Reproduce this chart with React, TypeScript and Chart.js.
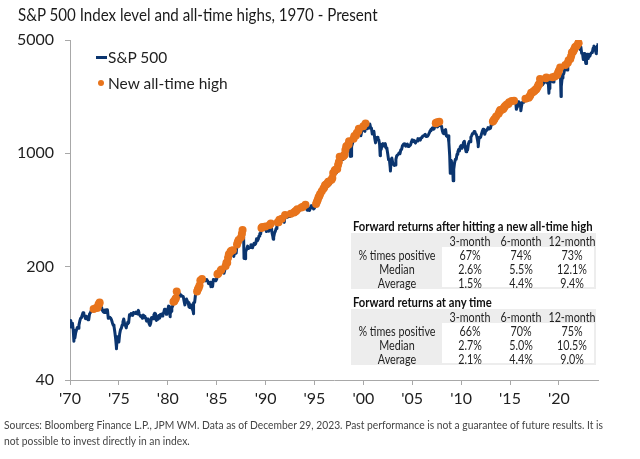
import React, { useEffect, useRef } from "react";
import { Chart, registerables } from "chart.js";

Chart.register(...registerables);

// ---------------- DATA ----------------
const startYear = 1970;

// S&P 500 month-end closes
const sp1970s = [
  85.0, 89.5, 89.6, 81.5, 76.6, 72.7, 78.1, 81.5, 84.2, 83.3, 87.2, 92.2,
  95.9, 96.8, 100.3, 103.9, 99.6, 99.7, 95.6, 99.0, 98.3, 94.2, 94.0, 102.1,
  103.9, 106.6, 107.2, 107.7, 109.5, 107.1, 107.4, 111.1, 110.6, 111.6, 116.7, 118.1,
  116.0, 111.7, 111.5, 107.0, 105.0, 104.3, 108.2, 104.3, 108.4, 108.3, 96.0, 97.6,
  96.6, 96.2, 94.0, 90.3, 87.3, 86.0, 79.3, 72.2, 63.5, 73.9, 70.0, 68.6,
  77.0, 81.6, 83.4, 87.3, 91.2, 95.2, 88.8, 86.9, 83.9, 89.0, 91.2, 90.2,
  100.9, 99.7, 102.8, 101.6, 100.2, 104.3, 103.4, 102.9, 105.2, 102.9, 102.1, 107.5,
  102.0, 99.8, 98.4, 98.4, 96.1, 100.5, 98.9, 96.8, 96.5, 92.3, 94.8, 95.1,
  89.3, 87.0, 89.2, 96.8, 97.2, 95.5, 100.7, 103.3, 102.5, 93.2, 94.7, 96.1,
  99.9, 96.3, 101.6, 101.8, 99.1, 102.9, 103.8, 109.3, 109.3, 101.8, 106.2, 107.9,
];
const sp1980s = [
  114.2, 113.7, 102.1, 106.3, 111.2, 114.2, 121.7, 122.4, 125.5, 127.5, 140.5, 135.8,
  129.6, 131.3, 136.0, 132.8, 132.6, 131.2, 130.9, 122.8, 116.2, 121.9, 126.4, 122.6,
  120.4, 113.1, 112.0, 116.4, 111.9, 109.6, 107.1, 119.5, 120.4, 133.7, 138.5, 140.6,
  145.3, 148.1, 153.0, 164.4, 162.4, 168.1, 162.6, 164.4, 166.1, 163.6, 166.4, 164.9,
  163.4, 157.1, 159.2, 160.1, 150.6, 153.2, 150.7, 166.7, 166.1, 166.1, 163.6, 167.2,
  179.6, 181.2, 180.7, 179.8, 189.6, 191.9, 190.9, 188.6, 182.1, 189.8, 202.2, 211.3,
  211.8, 226.9, 238.9, 235.5, 247.4, 250.8, 236.1, 252.9, 231.3, 244.0, 249.2, 242.2,
  274.1, 284.2, 291.7, 288.4, 290.1, 304.0, 318.7, 329.8, 321.8, 251.8, 230.3, 247.1,
  257.1, 267.8, 258.9, 261.3, 262.2, 273.5, 272.0, 261.5, 271.9, 279.0, 273.7, 277.7,
  297.5, 288.9, 294.9, 309.6, 320.5, 318.0, 346.1, 351.5, 349.2, 340.4, 346.0, 353.4,
];
const sp1990s = [
  329.1, 331.9, 339.9, 330.8, 361.2, 358.0, 356.2, 322.6, 306.1, 304.0, 322.2, 330.2,
  343.9, 367.1, 375.2, 375.3, 389.8, 371.2, 387.8, 395.4, 387.9, 392.5, 375.2, 417.1,
  408.8, 412.7, 403.7, 415.0, 415.4, 408.1, 424.2, 414.0, 417.8, 418.7, 431.4, 435.7,
  438.8, 443.4, 451.7, 440.2, 450.2, 450.5, 448.1, 463.6, 458.9, 467.8, 461.8, 466.5,
  481.6, 467.1, 445.8, 450.9, 456.5, 444.3, 458.3, 475.5, 462.7, 472.4, 453.7, 459.3,
  470.4, 487.4, 500.7, 514.7, 533.4, 544.8, 562.1, 561.9, 584.4, 581.5, 605.4, 615.9,
  636.0, 640.4, 645.5, 654.2, 669.1, 670.6, 640.0, 652.0, 687.3, 705.3, 757.0, 740.7,
  786.2, 790.8, 757.1, 801.3, 848.3, 885.1, 954.3, 899.5, 947.3, 914.6, 955.4, 970.4,
  980.3, 1049.3, 1101.8, 1111.8, 1090.8, 1133.8, 1120.7, 957.3, 1017.0, 1098.7, 1163.6, 1229.2,
  1279.6, 1238.3, 1286.4, 1335.2, 1301.8, 1372.7, 1328.7, 1320.4, 1282.7, 1362.9, 1388.9, 1469.3,
];
const sp2000s = [
  1394.5, 1366.4, 1498.6, 1452.4, 1420.6, 1454.6, 1430.8, 1517.7, 1436.5, 1429.4, 1315.0, 1320.3,
  1366.0, 1239.9, 1160.3, 1249.5, 1255.8, 1224.4, 1211.2, 1133.6, 1040.9, 1059.8, 1139.5, 1148.1,
  1130.2, 1106.7, 1147.4, 1076.9, 1067.1, 989.8, 911.6, 916.1, 815.3, 885.8, 936.3, 879.8,
  855.7, 841.2, 848.2, 916.9, 963.6, 974.5, 990.3, 1008.0, 996.0, 1050.7, 1058.2, 1111.9,
  1131.1, 1144.9, 1126.2, 1107.3, 1120.7, 1140.8, 1101.7, 1104.2, 1114.6, 1130.2, 1173.8, 1211.9,
  1181.3, 1203.6, 1180.6, 1156.9, 1191.5, 1191.3, 1234.2, 1220.3, 1228.8, 1207.0, 1249.5, 1248.3,
  1280.1, 1280.7, 1294.8, 1310.6, 1270.1, 1270.2, 1276.7, 1303.8, 1335.9, 1377.9, 1400.6, 1418.3,
  1438.2, 1406.8, 1420.9, 1482.4, 1530.6, 1503.4, 1455.3, 1474.0, 1526.8, 1549.4, 1481.1, 1468.4,
  1378.6, 1330.6, 1322.7, 1385.6, 1400.4, 1280.0, 1267.4, 1282.8, 1166.4, 968.8, 896.2, 903.3,
  825.9, 735.1, 797.9, 872.8, 919.1, 919.3, 987.5, 1020.6, 1057.1, 1036.2, 1095.6, 1115.1,
];
const sp2010s = [
  1073.9, 1104.5, 1169.4, 1186.7, 1089.4, 1030.7, 1101.6, 1049.3, 1141.2, 1183.3, 1180.6, 1257.6,
  1286.1, 1327.2, 1325.8, 1363.6, 1345.2, 1320.6, 1292.3, 1218.9, 1131.4, 1253.3, 1247.0, 1257.6,
  1312.4, 1365.7, 1408.5, 1397.9, 1310.3, 1362.2, 1379.3, 1406.6, 1440.7, 1412.2, 1416.2, 1426.2,
  1498.1, 1514.7, 1569.2, 1597.6, 1630.7, 1606.3, 1685.7, 1633.0, 1681.6, 1756.5, 1805.8, 1848.4,
  1782.6, 1859.5, 1872.3, 1884.0, 1923.6, 1960.2, 1930.7, 2003.4, 1972.3, 2018.1, 2067.6, 2058.9,
  1995.0, 2104.5, 2067.9, 2085.5, 2107.4, 2063.1, 2103.8, 1972.2, 1920.0, 2079.4, 2080.4, 2043.9,
  1940.2, 1932.2, 2059.7, 2065.3, 2097.0, 2098.9, 2173.6, 2171.0, 2168.3, 2126.2, 2198.8, 2238.8,
  2278.9, 2363.6, 2362.7, 2384.2, 2411.8, 2423.4, 2470.3, 2471.7, 2519.4, 2575.3, 2647.6, 2673.6,
  2823.8, 2713.8, 2640.9, 2648.1, 2705.3, 2718.4, 2816.3, 2901.5, 2914.0, 2711.7, 2760.2, 2506.9,
  2704.1, 2784.5, 2834.4, 2945.8, 2752.1, 2941.8, 2980.4, 2926.5, 2976.7, 3037.6, 3141.0, 3230.8,
];
const sp2020s = [
  3225.5, 2954.2, 2584.6, 2912.4, 3044.3, 3100.3, 3271.1, 3500.3, 3363.0, 3270.0, 3621.6, 3756.1,
  3714.2, 3811.2, 3972.9, 4181.2, 4204.1, 4297.5, 4395.3, 4522.7, 4307.5, 4605.4, 4567.0, 4766.2,
  4515.6, 4373.9, 4530.4, 4131.9, 4132.2, 3785.4, 4130.3, 3955.0, 3585.6, 3872.0, 4080.1, 3839.5,
  4076.6, 3970.2, 4109.3, 4169.5, 4179.8, 4450.4, 4589.0, 4507.7, 4288.1, 4193.8, 4567.8, 4769.8,
];

// Notable intra-month highs / lows (decimal year, level)
const extraDates = [
  1970.0, 1970.4, 1973.03, 1974.75, 1978.18, 1980.24, 1982.61, 1987.65, 1987.8, 1987.93,
  1990.54, 1990.78, 1998.54, 1998.77, 1999.54, 2000.23, 2001.72, 2002.77, 2007.42, 2007.55,
  2007.77, 2008.89, 2009.19, 2010.5, 2011.75, 2015.65, 2016.11, 2018.07, 2018.72, 2018.98,
  2020.13, 2020.22, 2022.0, 2022.78, 2023.82,
];
const extraValues = [
  93.0, 69.3, 120.2, 62.3, 86.9, 98.2, 102.4, 336.8, 224.8, 223.9,
  369.0, 295.5, 1186.8, 959.4, 1418.8, 1527.5, 965.8, 776.8, 1539.2, 1553.1,
  1565.2, 752.4, 676.5, 1022.6, 1099.2, 1867.6, 1829.1, 2872.9, 2930.8, 2351.1,
  3386.2, 2237.4, 4796.6, 3577.0, 4117.4,
];

// Previous all-time high before the chart starts (Nov 1968)
const priorAllTimeHigh = 108.37;

const xTickYears = [1970, 1975, 1980, 1985, 1990, 1995, 2000, 2005, 2010, 2015, 2020];
const yTickValues = [40, 200, 1000, 5000];

const titleText = "S&P 500 Index level and all-time highs, 1970 - Present";
const legendLine = "S&P 500";
const legendDot = "New all-time high";
const footnote1 =
  "Sources: Bloomberg Finance L.P., JPM WM. Data as of December 29, 2023. Past performance is not a guarantee of future results. It is";
const footnote2 = "not possible to invest directly in an index.";

const tableHeaders = ["3-month", "6-month", "12-month"];
const rowLabels = ["% times positive", "Median", "Average"];
const athTitle = "Forward returns after hitting a new all-time high";
const athReturns = [
  ["67%", "74%", "73%"],
  ["2.6%", "5.5%", "12.1%"],
  ["1.5%", "4.4%", "9.4%"],
];
const anyTitle = "Forward returns at any time";
const anyReturns = [
  ["66%", "70%", "75%"],
  ["2.7%", "5.0%", "10.5%"],
  ["2.1%", "4.4%", "9.0%"],
];

// ---------------- STYLE ----------------
const FONT = "Lato, 'Open Sans', sans-serif";
const NAVY = "#0b356f";
const ORANGE = "#e8741c";
const AXIS = "#a8a8a8";
const TEXT = "#1f1f1f";

let measureCtx: CanvasRenderingContext2D | null = null;
function textWidth(text: string, size: number, weight = 400) {
  if (!measureCtx) measureCtx = document.createElement("canvas").getContext("2d");
  if (!measureCtx) return 1;
  measureCtx.font = `${weight} ${size}px ${FONT}`;
  return measureCtx.measureText(text).width || 1;
}

function Txt(props: {
  text: string;
  x: number;
  y: number;
  size: number;
  weight?: number;
  color?: string;
  align?: "left" | "center";
  sx?: number;
}) {
  const { text, x, y, size, weight = 400, color = TEXT, align = "left", sx = 1 } = props;
  const center = align === "center";
  return (
    <span
      style={{
        position: "absolute",
        left: x,
        top: y,
        fontSize: size,
        fontWeight: weight,
        fontFamily: FONT,
        color,
        whiteSpace: "nowrap",
        lineHeight: 1,
        transformOrigin: center ? "50% 50%" : "0 50%",
        transform: center ? `translate(-50%, -50%) scaleX(${sx})` : `translateY(-50%) scaleX(${sx})`,
      }}
    >
      {text}
    </span>
  );
}

function ReturnsTable(props: {
  title: string;
  rows: string[][];
  titleY: number;
  boxTop: number;
  titleWidth: number;
}) {
  const { title, rows, titleY, boxTop, titleWidth } = props;
  const bodySize = 13;
  const sx = 77 / textWidth(rowLabels[0], bodySize);
  const tsx = titleWidth / textWidth(title, 13, 700);
  const colX = [470, 521, 572];
  const labelX = 397;
  const headerY = boxTop + 8;
  const rowY = [boxTop + 21.5, boxTop + 35.5, boxTop + 49.5];
  return (
    <>
      <Txt text={title} x={353} y={titleY} size={13} weight={700} sx={tsx} color="#111" />
      <div
        style={{ position: "absolute", left: 351, top: boxTop, width: 245, height: 56, background: "#ededed" }}
      />
      <div
        style={{ position: "absolute", left: 442, top: boxTop + 14, width: 152, height: 40, background: "#ffffff" }}
      />
      {tableHeaders.map((h, i) => (
        <Txt key={h} text={h} x={colX[i]} y={headerY} size={bodySize} align="center" sx={sx} />
      ))}
      {rowLabels.map((r, j) => (
        <Txt key={r} text={r} x={labelX} y={rowY[j]} size={bodySize} align="center" sx={sx} />
      ))}
      {rows.map((row, j) =>
        row.map((v, i) => (
          <Txt key={`${j}-${i}`} text={v} x={colX[i]} y={rowY[j]} size={bodySize} align="center" sx={sx} />
        ))
      )}
    </>
  );
}

function buildSeries() {
  const monthly = [...sp1970s, ...sp1980s, ...sp1990s, ...sp2000s, ...sp2010s, ...sp2020s];
  const pts: { x: number; y: number }[] = monthly.map((v, i) => ({ x: startYear + (i + 0.97) / 12, y: v }));
  extraDates.forEach((d, i) => pts.push({ x: d, y: extraValues[i] }));
  pts.sort((a, b) => a.x - b.x);
  let runMax = priorAllTimeHigh;
  const ath: { x: number; y: number }[] = [];
  for (const p of pts) {
    if (p.y > runMax) {
      runMax = p.y;
      ath.push(p);
    }
  }
  return { pts, ath };
}

export default function App() {
  const canvasRef = useRef<HTMLCanvasElement>(null);

  useEffect(() => {
    const { pts, ath } = buildSeries();
    const chart = new Chart(canvasRef.current as HTMLCanvasElement, {
      type: "line",
      data: {
        datasets: [
          {
            label: legendDot,
            data: ath,
            showLine: false,
            pointRadius: 4,
            pointHoverRadius: 4,
            pointBackgroundColor: ORANGE,
            pointBorderWidth: 0,
            borderColor: ORANGE,
            backgroundColor: ORANGE,
          },
          {
            label: legendLine,
            data: pts,
            borderColor: NAVY,
            borderWidth: 3,
            pointRadius: 0,
            tension: 0,
            borderJoinStyle: "round",
            fill: false,
          },
        ],
      },
      options: {
        animation: false,
        responsive: false,
        events: [],
        layout: { padding: { top: 40, right: 42, bottom: 0, left: 0 } },
        plugins: { legend: { display: false }, tooltip: { enabled: false }, title: { display: false } },
        scales: {
          x: {
            type: "linear",
            min: 1970,
            max: 2024,
            afterBuildTicks: (scale: any) => {
              scale.ticks = xTickYears.map((v) => ({ value: v }));
            },
            afterFit: (scale: any) => {
              scale.height = 79;
            },
            ticks: {
              callback: (v: any) => "'" + String(v).slice(2),
              font: { family: FONT, size: 16 },
              color: TEXT,
              padding: 4,
              maxRotation: 0,
              autoSkip: false,
            },
            grid: { display: true, drawOnChartArea: false, drawTicks: true, tickLength: 5, color: AXIS },
            border: { display: true, color: AXIS, width: 1 },
          },
          y: {
            type: "logarithmic",
            min: 40,
            max: 5000,
            afterBuildTicks: (scale: any) => {
              scale.ticks = yTickValues.map((v) => ({ value: v }));
            },
            afterFit: (scale: any) => {
              scale.width = 70;
            },
            ticks: {
              callback: (v: any) => String(v),
              font: { family: FONT, size: 16 },
              color: TEXT,
              padding: 11,
              autoSkip: false,
            },
            grid: { display: true, drawOnChartArea: false, drawTicks: true, tickLength: 5, color: AXIS },
            border: { display: true, color: AXIS, width: 1 },
          },
        },
      },
    } as any);
    return () => chart.destroy();
  }, []);

  const titleSx = 360 / textWidth(titleText, 17);
  const legendSx = 120 / textWidth(legendDot, 16);
  const footSx = 600 / textWidth(footnote1, 11);

  return (
    <div
      style={{
        position: "fixed",
        left: 0,
        top: 0,
        width: 640,
        height: 459,
        background: "#ffffff",
        overflow: "hidden",
        fontFamily: FONT,
      }}
    >
      <canvas
        ref={canvasRef}
        width={640}
        height={459}
        style={{ position: "absolute", left: 0, top: 0, width: 640, height: 459 }}
      />
      <Txt text={titleText} x={18} y={14} size={17} sx={titleSx} color="#1a1a1a" />

      {/* legend */}
      <div style={{ position: "absolute", left: 96, top: 56, width: 11, height: 3, background: NAVY }} />
      <Txt text={legendLine} x={108} y={57} size={16} sx={legendSx} />
      <div
        style={{
          position: "absolute",
          left: 98,
          top: 80,
          width: 6,
          height: 6,
          borderRadius: "50%",
          background: ORANGE,
        }}
      />
      <Txt text={legendDot} x={108} y={83} size={16} sx={legendSx} />

      <ReturnsTable title={athTitle} rows={athReturns} titleY={226} boxTop={233} titleWidth={240} />
      <ReturnsTable title={anyTitle} rows={anyReturns} titleY={302} boxTop={309} titleWidth={139} />

      <Txt text={footnote1} x={4} y={424} size={11} sx={footSx} color="#444" />
      <Txt text={footnote2} x={4} y={440} size={11} sx={footSx} color="#444" />
    </div>
  );
}
